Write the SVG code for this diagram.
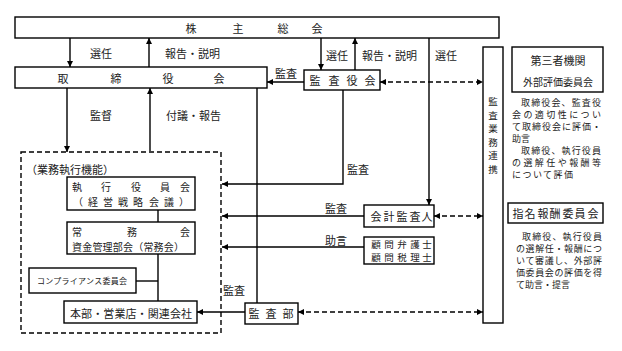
<svg xmlns="http://www.w3.org/2000/svg" width="622" height="351" viewBox="0 0 622 351">
<style>
.box{fill:#fff;stroke:#000;stroke-width:1.4}
.ln{fill:none;stroke:#000;stroke-width:1.4}
.dash{fill:none;stroke:#000;stroke-width:1.4;stroke-dasharray:5 3}
text{font-family:"Noto Sans CJK JP","Noto Sans CJK SC",sans-serif;font-size:11px;fill:#222;dominant-baseline:central}
.c{text-anchor:middle}
.s{font-size:8px}
.r{font-size:9px}
.m{font-size:10px}
.v{font-size:9.5px}
</style>
<defs>
<marker id="ah" viewBox="0 0 10 10" refX="10" refY="5" markerWidth="6" markerHeight="6" markerUnits="userSpaceOnUse" orient="auto-start-reverse">
<path d="M0,0 L10,5 L0,10 z" fill="#000"/>
</marker>
</defs>
<rect width="622" height="351" fill="#fff"/>

<g id="connectors">
<line class="ln" x1="70" y1="38" x2="70" y2="67" marker-end="url(#ah)"/>
<line class="ln" x1="149" y1="67" x2="149" y2="38" marker-end="url(#ah)"/>
<line class="ln" x1="321" y1="38" x2="321" y2="70" marker-end="url(#ah)"/>
<line class="ln" x1="355" y1="70" x2="355" y2="38" marker-end="url(#ah)"/>
<line class="ln" x1="429" y1="38" x2="429" y2="205" marker-end="url(#ah)"/>
<line class="ln" x1="304" y1="82" x2="267" y2="82" marker-end="url(#ah)"/>
<line class="dash" x1="380" y1="82" x2="483" y2="82" marker-start="url(#ah)" marker-end="url(#ah)"/>
<line class="ln" x1="67" y1="88" x2="67" y2="152" marker-end="url(#ah)"/>
<line class="ln" x1="150" y1="151" x2="150" y2="88" marker-end="url(#ah)"/>
<line class="ln" x1="257" y1="88" x2="257" y2="303"/>
<polyline class="ln" points="343,90 343,184 222,184" marker-end="url(#ah)"/>
<line class="ln" x1="364" y1="216" x2="222" y2="216" marker-end="url(#ah)"/>
<line class="dash" x1="434" y1="216" x2="483" y2="216" marker-start="url(#ah)" marker-end="url(#ah)"/>
<line class="ln" x1="364" y1="247" x2="222" y2="247" marker-end="url(#ah)"/>
<line class="ln" x1="245" y1="312" x2="197" y2="312" marker-end="url(#ah)"/>
<line class="dash" x1="298" y1="312" x2="483" y2="312" marker-start="url(#ah)" marker-end="url(#ah)"/>
<line class="ln" x1="158" y1="210" x2="158" y2="222"/>
<line class="ln" x1="158" y1="254" x2="158" y2="301"/>
<line class="ln" x1="136" y1="281" x2="158" y2="281"/>
<text x="90" y="53">選任</text>
<text x="165" y="53">報告・説明</text>
<text x="275" y="73">監査</text>
<text x="326" y="55">選任</text>
<text x="362" y="55">報告・説明</text>
<text x="435" y="55">選任</text>
<text x="90" y="115">監督</text>
<text x="166" y="115">付議・報告</text>
<text x="347" y="169">監査</text>
<text x="325" y="208">監査</text>
<text x="325" y="240">助言</text>
<text x="223" y="290">監査</text>
</g>

<g id="kabunushi">
<rect class="box" x="15" y="17" width="484" height="21"/>
<text class="c" x="191 238 283 317" y="28">株主総会</text>
</g>

<g id="torishimariyakukai">
<rect class="box" x="15" y="67" width="252" height="21"/>
<text class="c" x="63 116 168 219" y="78">取締役会</text>
</g>

<g id="kansayakukai">
<rect class="box" x="304" y="70" width="76" height="20"/>
<text class="c" x="315 334 352 370" y="80">監査役会</text>
</g>

<g id="gyomu">
<rect class="dash" x="21" y="152" width="200" height="181"/>
<text x="26" y="169">（業務執行機能）</text>
</g>

<g id="shikko">
<rect class="box" x="67" y="177" width="128" height="33"/>
<text class="c m" x="77 106 136 165 185" y="186">執行役員会</text>
<text class="c m" x="78 93 108 123 138 154 169 184" y="201">（経営戦略会議）</text>
</g>

<g id="jomu">
<rect class="box" x="67" y="222" width="128" height="32"/>
<text class="c m" x="77 132 185" y="231">常務会</text>
<text class="m" x="72" y="246" textLength="112" lengthAdjust="spacing">資金管理部会（常務会）</text>
</g>

<g id="compliance">
<rect class="box" x="29" y="268" width="107" height="25"/>
<text class="s" x="37" y="280" textLength="90" lengthAdjust="spacing">コンプライアンス委員会</text>
</g>

<g id="honbu">
<rect class="box" x="64" y="301" width="133" height="22"/>
<text x="70" y="313" textLength="122" lengthAdjust="spacing">本部・営業店・関連会社</text>
</g>

<g id="kansabu">
<rect class="box" x="245" y="303" width="53" height="21"/>
<text class="c" x="254 271 288" y="313">監査部</text>
</g>

<g id="kaikei">
<rect class="box" x="364" y="205" width="70" height="22"/>
<text class="c" x="376 389 402 415 427" y="216">会計監査人</text>
</g>

<g id="komon">
<rect class="box" x="364" y="237" width="70" height="27"/>
<text class="c v" x="376 389 402 415 427" y="243.5">顧問弁護士</text>
<text class="c v" x="376 389 402 415 427" y="257">顧問税理士</text>
</g>

<g id="renkei">
<rect class="box" x="483" y="47" width="20" height="276"/>
<text class="c v" x="493" y="101">監</text>
<text class="c v" x="493" y="114.5">査</text>
<text class="c v" x="493" y="128">業</text>
<text class="c v" x="493" y="141.5">務</text>
<text class="c v" x="493" y="155">連</text>
<text class="c v" x="493" y="168.5">携</text>
</g>

<g id="daisansha">
<rect class="box" x="512" y="47" width="91" height="45"/>
<text class="c" x="558" y="60">第三者機関</text>
<text class="c m" x="558" y="81">外部評価委員会</text>
<text class="r" x="521" y="102" textLength="80" lengthAdjust="spacing">取締役会、監査役</text>
<text class="r" x="512" y="114" textLength="89" lengthAdjust="spacing">会の適切性につい</text>
<text class="r" x="512" y="126" textLength="89" lengthAdjust="spacing">て取締役会に評価・</text>
<text class="r" x="512" y="138">助言</text>
<text class="r" x="521" y="150" textLength="80" lengthAdjust="spacing">取締役、執行役員</text>
<text class="r" x="512" y="162" textLength="89" lengthAdjust="spacing">の選解任や報酬等</text>
<text class="r" x="512" y="174" textLength="61" lengthAdjust="spacing">について評価</text>
</g>

<g id="shimei">
<rect class="box" x="508" y="203" width="95" height="20"/>
<text class="c" x="518 530 543 555 568 580 593" y="213">指名報酬委員会</text>
<text class="r" x="522" y="236" textLength="80" lengthAdjust="spacing">取締役、執行役員</text>
<text class="r" x="516" y="248" textLength="86" lengthAdjust="spacing">の選解任・報酬につ</text>
<text class="r" x="516" y="260" textLength="86" lengthAdjust="spacing">いて審議し、外部評</text>
<text class="r" x="516" y="272" textLength="86" lengthAdjust="spacing">価委員会の評価を得</text>
<text class="r" x="516" y="284">て助言・提言</text>
</g>
</svg>
